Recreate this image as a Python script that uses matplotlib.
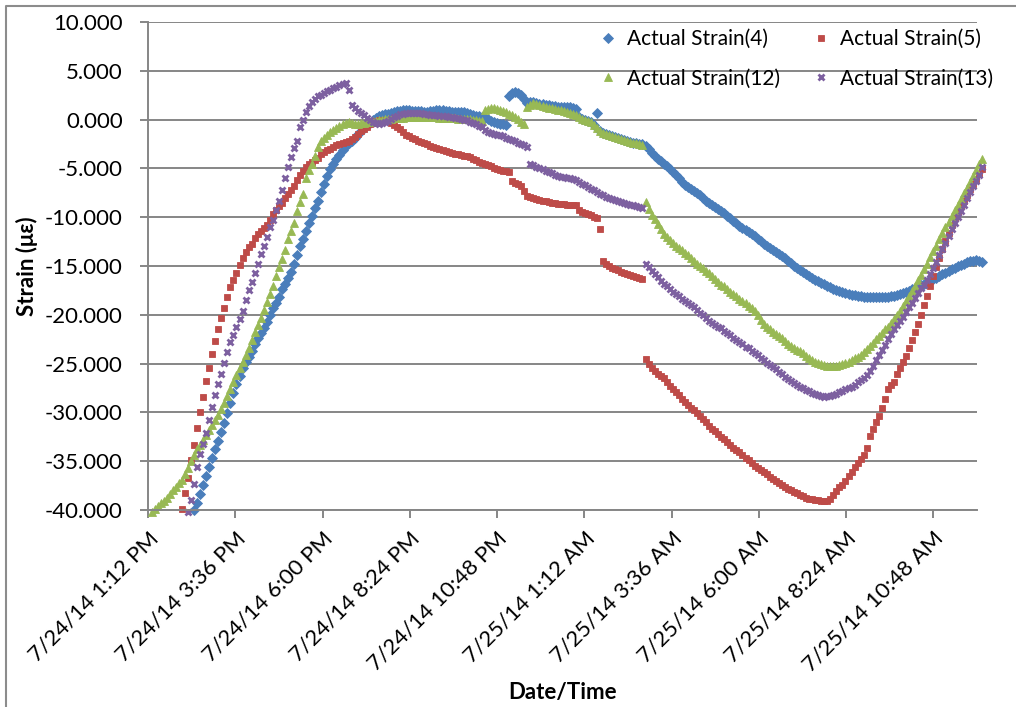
import pandas as pd
import matplotlib
matplotlib.use("Agg")
import matplotlib.pyplot as plt
import matplotlib.dates as mdates
from matplotlib.lines import Line2D

plt.rcParams["font.family"] = ["Lato", "DejaVu Sans"]
plt.rcParams["axes.unicode_minus"] = False

# strain readings, logged every 5 minutes
start_4 = "2014-07-24 14:28"
strain_4 = [
    -40.0, -39.3, -38.4, -37.4, -36.5, -35.6,
    -34.7, -33.8, -32.9, -32.0, -31.1, -30.1, -29.0, -28.0, -27.1, -26.3,
    -25.4, -24.8, -24.3, -23.7, -23.0, -22.4, -21.9, -21.4, -20.7, -20.0,
    -19.3, -18.75, -18.2, -17.4, -16.8, -16.2, -15.6, -14.8, -13.9, -13.0,
    -12.2, -11.4, -10.6, -9.85, -9.1, -8.3, -7.4, -6.6, -5.8, -5.1,
    -4.5, -4.0, -3.6, -3.15, -2.75, -2.4, -2.15, -1.85, -1.5, -1.2,
    -0.9, -0.6, -0.3, 0.0, 0.2, 0.35, 0.45, 0.55, 0.6, 0.7,
    0.8, 0.85, 0.9, 0.95, 0.95, 0.95, 0.9, 0.9, 0.85, 0.85,
    0.8, 0.8, 0.85, 0.9, 0.95, 0.95, 0.95, 0.9, 0.85, 0.8,
    0.8, 0.8, 0.8, 0.75, 0.7, 0.6, 0.45, 0.4, 0.35, 0.3,
    0.2, 0.05, -0.1, -0.2, -0.3, -0.4, -0.5, -0.55, 2.4, 2.7,
    2.8, 2.75, 2.5, 2.1, 1.75, 1.8, 1.8, 1.7, 1.6, 1.55,
    1.5, 1.45, 1.4, 1.35, 1.3, 1.3, 1.3, 1.3, 1.25, 1.2,
    1.1, 0.3, 0.1, 0.0, -0.1, -0.2, -0.6, 0.7, -1.2, -1.4,
    -1.5, -1.6, -1.7, -1.8, -1.9, -2.0, -2.1, -2.2, -2.3, -2.4,
    -2.4, -2.5, -2.5, -2.7, -3.05, -3.4, -3.7, -4.0, -4.25, -4.5,
    -4.8, -5.1, -5.4, -5.7, -6.0, -6.35, -6.65, -6.9, -7.1, -7.3,
    -7.5, -7.75, -8.05, -8.3, -8.55, -8.75, -8.95, -9.15, -9.35, -9.6,
    -9.85, -10.1, -10.35, -10.6, -10.9, -11.15, -11.35, -11.55, -11.75, -11.95,
    -12.2, -12.45, -12.7, -12.95, -13.15, -13.35, -13.55, -13.75, -13.95, -14.2,
    -14.45, -14.7, -14.95, -15.2, -15.4, -15.6, -15.85, -16.05, -16.25, -16.4,
    -16.55, -16.7, -16.85, -17.0, -17.2, -17.35, -17.5, -17.6, -17.7, -17.8,
    -17.85, -17.95, -18.0, -18.05, -18.1, -18.15, -18.15, -18.2, -18.2, -18.2,
    -18.2, -18.2, -18.15, -18.15, -18.1, -18.05, -17.95, -17.85, -17.75, -17.65,
    -17.55, -17.4, -17.25, -17.1, -16.95, -16.8, -16.65, -16.5, -16.35, -16.2,
    -16.0, -15.85, -15.7, -15.5, -15.35, -15.2, -15.05, -14.9, -14.75, -14.6,
    -14.5, -14.45, -14.4, -14.45, -14.6,
]

start_5 = "2014-07-24 14:08"
strain_5 = [
    -39.9, -38.3, -36.7, -34.9, -33.3, -31.6, -30.0, -28.4, -26.8, -25.4,
    -24.0, -22.7, -21.5, -20.3, -19.3, -18.2, -17.2, -16.4, -15.7, -14.9,
    -14.2, -13.6, -13.1, -12.7, -12.1, -11.7, -11.4, -11.1, -10.8, -10.3,
    -9.7, -9.3, -8.9, -8.5, -8.0, -7.6, -7.2, -6.8, -6.2, -5.7,
    -5.3, -4.9, -4.6, -4.3, -4.1, -3.9, -3.55, -3.3, -3.1, -3.0,
    -2.8, -2.6, -2.5, -2.4, -2.3, -2.2, -2.0, -1.8, -1.5, -1.2,
    -1.0, -0.75, -0.5, -0.3, -0.15, 0.0, 0.0, 0.0, -0.1, -0.35,
    -0.6, -0.8, -1.0, -1.3, -1.55, -1.7, -1.9, -2.0, -2.2, -2.3,
    -2.4, -2.55, -2.7, -2.8, -2.9, -3.0, -3.1, -3.25, -3.35, -3.45,
    -3.5, -3.55, -3.6, -3.7, -3.75, -3.85, -4.0, -4.15, -4.3, -4.45,
    -4.55, -4.7, -4.8, -4.95, -5.05, -5.2, -5.25, -5.3, -5.4, -6.3,
    -6.5, -6.6, -6.8, -7.3, -7.8, -7.95, -8.05, -8.15, -8.25, -8.3,
    -8.35, -8.4, -8.5, -8.55, -8.6, -8.6, -8.65, -8.7, -8.7, -8.75,
    -8.8, -9.3, -9.5, -9.6, -9.7, -9.8, -9.95, -10.1, -11.2, -14.5,
    -14.8, -15.0, -15.2, -15.3, -15.45, -15.6, -15.7, -15.8, -15.95, -16.05,
    -16.15, -16.25, -16.35, -24.5, -25.0, -25.4, -25.8, -26.1, -26.3, -26.5,
    -26.9, -27.3, -27.6, -27.9, -28.25, -28.6, -28.9, -29.2, -29.5, -29.8,
    -30.1, -30.4, -30.7, -31.0, -31.4, -31.65, -31.9, -32.2, -32.5, -32.75,
    -33.0, -33.3, -33.6, -33.85, -34.1, -34.4, -34.65, -34.9, -35.2, -35.45,
    -35.7, -35.9, -36.1, -36.35, -36.6, -36.8, -37.0, -37.2, -37.4, -37.6,
    -37.8, -38.0, -38.15, -38.3, -38.45, -38.6, -38.75, -38.85, -38.9, -39.0,
    -39.0, -39.05, -39.1, -39.1, -38.9, -38.5, -38.1, -37.6, -37.4, -37.0,
    -36.5, -36.1, -35.6, -35.2, -34.8, -34.35, -33.6, -32.4, -31.7, -31.0,
    -30.4, -29.6, -28.6, -27.6, -27.2, -26.9, -26.1, -25.4, -24.8, -24.2,
    -23.4, -22.6, -21.8, -20.9, -20.0, -19.0, -18.1, -17.0, -16.0, -15.1,
    -14.2, -13.3, -12.4, -11.6, -10.8, -10.1, -9.5, -8.9, -8.3, -7.7,
    -7.1, -6.6, -6.1, -5.6, -5.1,
]

start_12 = "2014-07-24 13:18"
strain_12 = [
    -40.2, -39.9, -39.6, -39.3, -39.1, -38.8, -38.4, -38.0, -37.6, -37.2,
    -36.9, -36.3, -35.7, -35.0, -34.4, -33.8, -33.3, -32.8, -32.3, -31.8,
    -31.3, -30.8, -30.3, -29.7, -29.0, -28.3, -27.6, -26.9, -26.2, -25.5,
    -24.8, -24.1, -23.4, -22.6, -21.8, -21.0, -20.3, -19.5, -18.7, -17.9,
    -17.0, -16.0, -15.1, -14.3, -13.4, -12.2, -11.4, -10.6, -9.4, -8.4,
    -7.6, -6.0, -5.2, -4.6, -3.7, -2.8, -2.2, -1.9, -1.6, -1.3,
    -1.1, -0.9, -0.7, -0.5, -0.3, -0.2, -0.3, -0.4, -0.4, -0.3,
    -0.3, -0.2, -0.2, -0.1, -0.1, 0.0, 0.0, 0.1, 0.1, 0.1,
    0.2, 0.2, 0.2, 0.2, 0.3, 0.3, 0.3, 0.3, 0.3, 0.3,
    0.3, 0.3, 0.3, 0.3, 0.3, 0.2, 0.2, 0.2, 0.2, 0.2,
    0.2, 0.1, 0.1, 0.1, 0.1, 0.1, 0.0, 0.0, -0.1, -0.1,
    1.0, 1.1, 1.2, 1.2, 1.1, 1.0, 0.9, 0.8, 0.6, 0.5,
    0.3, 0.1, -0.2, -0.5, 1.3, 1.5, 1.7, 1.6, 1.5, 1.4,
    1.3, 1.2, 1.2, 1.1, 1.0, 1.0, 0.9, 0.8, 0.7, 0.6,
    0.5, 0.3, 0.1, 0.0, -0.1, -0.2, -0.6, -0.9, -1.2, -1.4,
    -1.5, -1.6, -1.7, -1.8, -1.9, -2.0, -2.1, -2.2, -2.3, -2.4,
    -2.4, -2.5, -2.6, -8.4, -9.2, -9.8, -10.2, -10.7, -11.2, -11.7,
    -12.0, -12.3, -12.6, -12.9, -13.2, -13.4, -13.7, -13.9, -14.2, -14.5,
    -14.75, -15.0, -15.2, -15.5, -15.7, -16.0, -16.3, -16.6, -16.9, -17.1,
    -17.4, -17.65, -17.9, -18.1, -18.4, -18.6, -18.8, -19.1, -19.3, -19.6,
    -20.0, -20.5, -20.9, -21.2, -21.5, -21.8, -22.0, -22.2, -22.4, -22.7,
    -23.0, -23.2, -23.4, -23.6, -23.7, -23.9, -24.2, -24.4, -24.6, -24.8,
    -24.9, -25.0, -25.1, -25.2, -25.25, -25.2, -25.2, -25.1, -25.0, -24.9,
    -24.8, -24.6, -24.4, -24.3, -24.1, -23.8, -23.5, -23.2, -22.9, -22.5,
    -22.2, -21.9, -21.5, -21.2, -20.8, -20.4, -20.0, -19.6, -19.1, -18.6,
    -18.1, -17.6, -17.0, -16.4, -15.9, -15.3, -14.75, -14.1, -13.5, -12.9,
    -12.2, -11.6, -11.0, -10.5, -9.9, -9.3, -8.7, -8.1, -7.5, -7.0,
    -6.4, -5.8, -5.2, -4.6, -4.0,
]

start_13 = "2014-07-24 14:18"
strain_13 = [
    -40.2, -39.0, -37.3, -35.6, -34.3, -33.2, -32.1, -30.8,
    -29.4, -28.2, -27.1, -26.1, -24.9, -23.8, -22.8, -22.1, -21.3, -20.4,
    -19.6, -18.5, -17.5, -16.6, -15.7, -14.8, -13.8, -12.9, -12.0, -11.0,
    -10.3, -9.3, -8.3, -7.2, -6.0, -4.9, -3.8, -2.9, -2.2, -0.8,
    0.0, 0.8, 1.35, 1.8, 2.15, 2.4, 2.55, 2.7, 2.9, 3.05,
    3.2, 3.35, 3.5, 3.6, 3.75, 3.0, 1.5, 1.2, 0.9, 0.65,
    0.45, 0.2, 0.0, -0.2, -0.35, -0.4, -0.3, -0.2, -0.1, 0.1,
    0.25, 0.4, 0.55, 0.6, 0.65, 0.7, 0.7, 0.7, 0.7, 0.65,
    0.6, 0.55, 0.5, 0.45, 0.45, 0.4, 0.35, 0.35, 0.3, 0.3,
    0.2, 0.15, 0.1, 0.0, -0.05, -0.2, -0.35, -0.5, -0.65, -0.8,
    -1.05, -1.3, -1.4, -1.45, -1.55, -1.6, -1.7, -1.9, -2.0, -2.1,
    -2.2, -2.35, -2.5, -2.65, -2.8, -4.55, -4.7, -4.85, -5.0, -5.1,
    -5.25, -5.4, -5.5, -5.65, -5.8, -5.85, -5.9, -5.95, -6.0, -6.05,
    -6.2, -6.4, -6.6, -6.75, -6.9, -7.1, -7.25, -7.4, -7.6, -7.75,
    -7.9, -8.0, -8.1, -8.25, -8.35, -8.45, -8.55, -8.65, -8.75, -8.8,
    -8.9, -9.0, -9.1, -14.75, -15.1, -15.5, -15.8, -16.1, -16.5, -16.8,
    -17.1, -17.4, -17.7, -17.9, -18.1, -18.35, -18.6, -18.8, -19.0, -19.25,
    -19.5, -19.8, -20.05, -20.3, -20.6, -20.8, -21.0, -21.2, -21.4, -21.65,
    -21.9, -22.1, -22.35, -22.55, -22.8, -23.0, -23.25, -23.45, -23.7, -23.9,
    -24.15, -24.4, -24.65, -24.9, -25.1, -25.35, -25.6, -25.85, -26.1, -26.35,
    -26.55, -26.75, -26.95, -27.2, -27.4, -27.55, -27.7, -27.85, -28.0, -28.1,
    -28.2, -28.3, -28.4, -28.35, -28.3, -28.2, -28.1, -27.95, -27.8, -27.65,
    -27.5, -27.35, -27.15, -26.9, -26.7, -26.45, -26.2, -25.8, -25.2, -24.6,
    -24.1, -23.6, -23.1, -22.5, -22.0, -21.5, -21.0, -20.6, -20.2, -19.7,
    -19.2, -18.75, -18.3, -17.8, -17.3, -16.9, -16.45, -15.8, -15.2, -14.6,
    -13.9, -13.25, -12.6, -11.9, -11.2, -10.55, -9.95, -9.35, -8.7, -8.05,
    -7.45, -6.85, -6.25, -5.65, -4.9,
]

labels = ["Actual Strain(4)", "Actual Strain(5)", "Actual Strain(12)", "Actual Strain(13)"]
starts = [start_4, start_5, start_12, start_13]
series = [strain_4, strain_5, strain_12, strain_13]
colors = ["#4A7EBB", "#BE4B48", "#98B954", "#7D60A0"]
markers = ["D", "s", "^", "x"]
sizes = [4.8, 5.0, 5.9, 5.0]

tick_times = pd.date_range("2014-07-24 13:12", periods=10, freq="144min")
x_min = pd.Timestamp("2014-07-24 13:12")
x_max = pd.Timestamp("2014-07-25 12:00")

grid_grey = "#868686"

fig = plt.figure(figsize=(10.16, 7.07), dpi=100)
ax = fig.add_axes([148 / 1016, 1 - 510 / 707, 829 / 1016, 488 / 707])

handles = []
for start, vals, col, mk, ms, lab in zip(starts, series, colors, markers, sizes, labels):
    times = pd.date_range(start, periods=len(vals), freq="5min")
    if mk == "x":
        h, = ax.plot(times, vals, linestyle="none", marker=mk, markersize=ms,
                     markeredgewidth=2.0, color=col, label=lab, clip_on=False)
    else:
        h, = ax.plot(times, vals, linestyle="none", marker=mk, markersize=ms,
                     markeredgewidth=0.6, color=col, label=lab, clip_on=False)
    handles.append(h)

ax.set_xlim(x_min, x_max)
ax.set_ylim(-40, 10)
ax.set_yticks(range(-40, 11, 5))
ax.yaxis.set_major_formatter(plt.FuncFormatter(lambda v, p: "%.3f" % v))

ax.set_xticks(tick_times)


def fmt_date(v, pos):
    d = mdates.num2date(v)
    h = d.hour % 12
    if h == 0:
        h = 12
    ampm = "AM" if d.hour < 12 else "PM"
    return f"{d.month}/{d.day}/{d:%y} {h}:{d:%M} {ampm}"


ax.xaxis.set_major_formatter(plt.FuncFormatter(fmt_date))

ax.grid(axis="y", color=grid_grey, linewidth=1.4)
ax.set_axisbelow(True)
for side in ["top", "right"]:
    ax.spines[side].set_visible(False)
for side in ["left", "bottom"]:
    ax.spines[side].set_color(grid_grey)
    ax.spines[side].set_linewidth(1.4)

ax.tick_params(axis="both", direction="out", length=6, width=1.4, color=grid_grey,
               labelsize=16, labelcolor="black")
ax.tick_params(axis="y", pad=12)
ax.tick_params(axis="x", pad=7)
plt.setp(ax.get_xticklabels(), rotation=45, ha="right", rotation_mode="anchor")

ax.set_ylabel("Strain (\u03bc\u03b5)", fontsize=16, fontweight="bold")
ax.yaxis.set_label_coords(-0.133, 0.5)
ax.set_xlabel("Date/Time", fontsize=16, fontweight="bold")
ax.xaxis.set_label_coords(0.5, -0.352)

# legend fills column by column, so order the entries to read across rows
order = [0, 2, 1, 3]
ax.legend([handles[i] for i in order], [labels[i] for i in order],
          loc="upper left", bbox_to_anchor=(600 / 1016, 1 - 29 / 707),
          bbox_transform=fig.transFigure, ncol=2, frameon=False, fontsize=15,
          handlelength=0.8, handletextpad=0.5, columnspacing=1.55, labelspacing=0.95,
          borderaxespad=0, borderpad=0)

# chart area border
fig.add_artist(Line2D([6 / 1016, 6 / 1016, 1.0], [0.0, 1 - 6 / 707, 1 - 6 / 707],
                      transform=fig.transFigure, color="#8C8C8C", linewidth=1.5))

fig.savefig("out.png", dpi=100)
